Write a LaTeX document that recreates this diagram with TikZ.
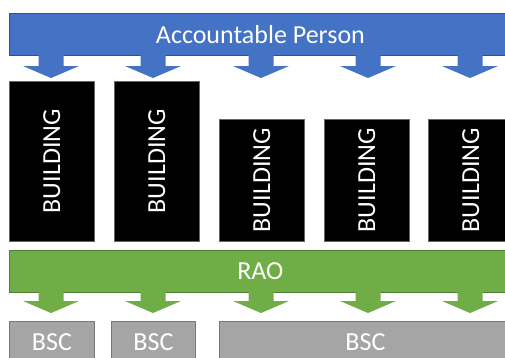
\documentclass[tikz,border=0pt]{standalone}
\usepackage{fontspec}
\setmainfont{Carlito}
\definecolor{apblue}{HTML}{4472C4}
\definecolor{apblueline}{HTML}{2F528F}
\definecolor{raogreen}{HTML}{70AD47}
\definecolor{raogreenline}{HTML}{507E32}
\definecolor{bscgray}{HTML}{A5A5A5}
\definecolor{bscgrayline}{HTML}{787878}
\newcommand\downblock[5]{%
  \fill[#5] (#1-12.5,#2) -- (#1+12.5,#2) -- (#1+12.5,#3) -- (#1+28,#3)
    -- (#1,#4) -- (#1-28,#3) -- (#1-12.5,#3) -- cycle;}
\begin{document}
\begin{tikzpicture}[x=1pt,y=-1pt,
  bigtext/.style={font=\fontsize{26}{31}\selectfont, text=white},
  bar/.style={draw, line width=0.8pt, anchor=north west, minimum width=502pt,
    minimum height=42pt, inner sep=0pt, bigtext},
  bld/.style={draw=black!60, line width=0.5pt, fill=black, anchor=north west,
    minimum width=85pt, inner sep=0pt},
  bldtext/.style={bigtext, rotate=90},
  bsc/.style={draw=bscgrayline, line width=0.8pt, fill=bscgray, anchor=north west,
    minimum height=42pt, inner sep=0pt, bigtext}]
\useasboundingbox (0,0) rectangle (505,357);
\clip (0,0) rectangle (505,357);
\fill[white] (0,0) rectangle (505,357);
% top bar
\node[bar, draw=apblueline, fill=apblue] (ap) at (9,13) {Accountable Person};
% blue arrows
\foreach \cx in {51,153,261,368,470}{\downblock{\cx}{54.6}{66}{78}{apblue}}
% buildings
\node[bld, minimum height=160pt] (b1) at (9,81) {};
\node[bld, minimum height=160pt] (b2) at (114,81) {};
\node[bld, minimum height=122pt] (b3) at (219,119) {};
\node[bld, minimum height=122pt] (b4) at (324,119) {};
\node[bld, minimum height=122pt] (b5) at (428,119) {};
\foreach \b in {b1,b2,b3,b4,b5}{\node[bldtext] at (\b.center) {BUILDING};}
% green bar
\node[bar, draw=raogreenline, fill=raogreen] (rao) at (9,250) {RAO};
\foreach \cx in {51,153,261,368,470}{\downblock{\cx}{291.6}{301}{313}{raogreen}}
% BSC boxes
\node[bsc, minimum width=85pt] (s1) at (9,321) {BSC};
\node[bsc, minimum width=84pt] (s2) at (111,321) {BSC};
\node[bsc, minimum width=292pt] (s3) at (219,321) {BSC};
\end{tikzpicture}
\end{document}
